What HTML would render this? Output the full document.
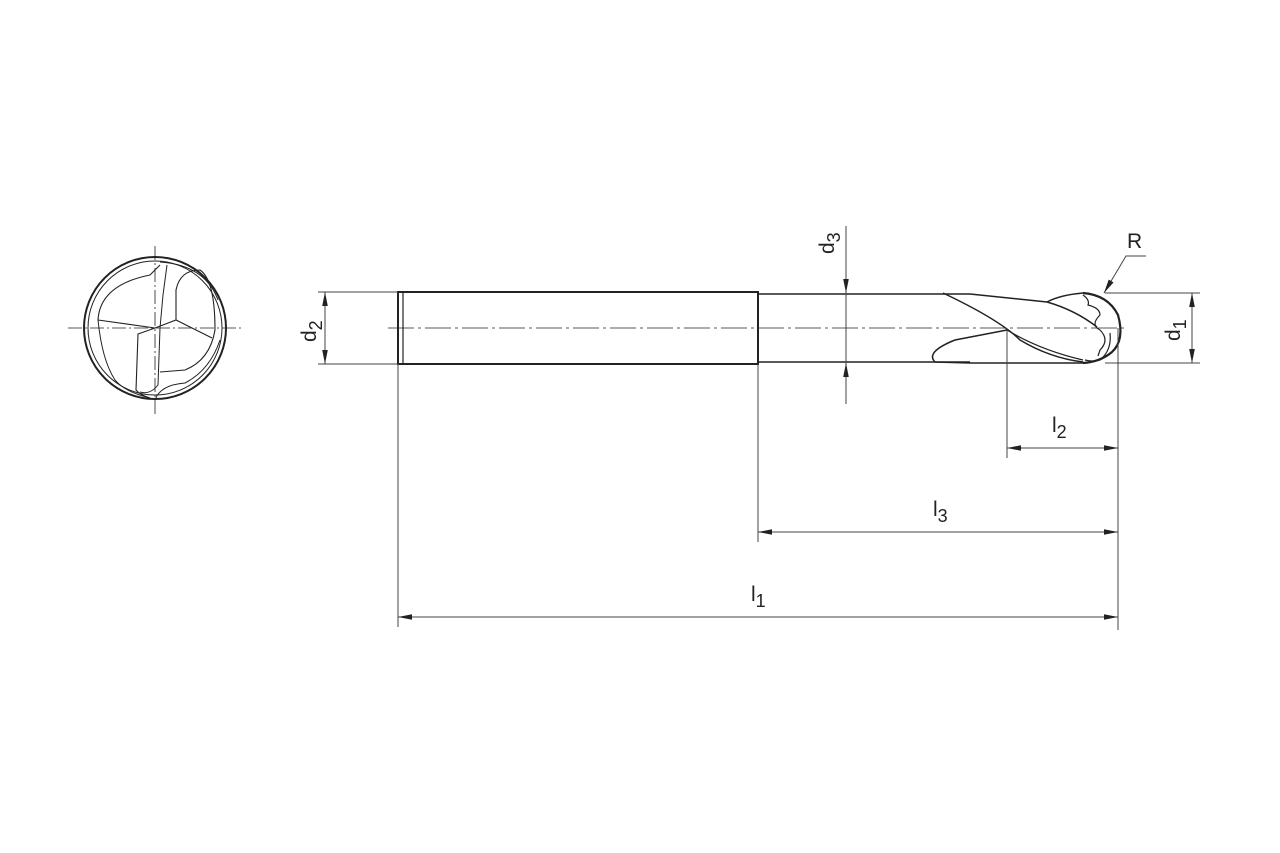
<!DOCTYPE html>
<html><head><meta charset="utf-8"><style>
html,body{margin:0;padding:0;background:#fff;}
svg{display:block;}
text{font-family:"Liberation Sans",sans-serif;fill:#222;}
</style></head><body>
<svg width="1280" height="853" viewBox="0 0 1280 853" xmlns="http://www.w3.org/2000/svg">
<defs>
<marker id="a" viewBox="0 0 10 5" refX="10" refY="2.5" markerWidth="14" markerHeight="7" markerUnits="userSpaceOnUse" orient="auto-start-reverse"><path d="M0,0.5 L10,2.5 L0,4.5 z" fill="#222"/></marker>
</defs>
<g fill="none" stroke="#222">
<!-- end view -->
<circle cx="155" cy="328" r="71" stroke-width="2"/>
<circle cx="155" cy="328" r="67" stroke-width="1"/>
<line x1="68" y1="328" x2="242" y2="328" stroke-width="0.8" stroke-dasharray="14,3,2,3"/>
<line x1="155" y1="246" x2="155" y2="414" stroke-width="0.8" stroke-dasharray="14,3,2,3"/>
<path d="M155,328 L98,320 M155,328 L138,334 L136,390 Q140,395 150,398 M155,328 L176,320 L212,338" stroke-width="1.1"/>
<path d="M98,320 Q100,285 150,275 L160,265 M176,320 L176,290 Q180,270 200,270 Q215,280 215,330 Q210,360 185,370 L160,372" stroke-width="1.1"/>
<path d="M150,398 Q125,392 115,380 Q102,360 98,320 M160,262 Q205,265 218,300 M155,400 Q160,385 185,383 Q210,370 220,340" stroke-width="1"/>
<path d="M167,265 Q165,280 163,295 L160,328 L158,385 Q150,395 140,392" stroke-width="1"/>
<!-- shank -->
<rect x="398" y="292" width="360" height="72" stroke-width="2"/>
<line x1="403" y1="292" x2="403" y2="364" stroke-width="1.2"/>
<path d="M758,294 L970,294 M758,362 L970,362" stroke-width="1.6"/>
<line x1="388" y1="328" x2="1128" y2="328" stroke-width="0.8" stroke-dasharray="26,4,3,4"/>
<!-- flutes -->
<path d="M943,293 Q1000,320 1020,340 Q1050,358 1083,362" stroke-width="1.5"/>
<path d="M970,294 L1047,302 Q1075,310 1097,327" stroke-width="1.5"/>
<path d="M1047,302 Q1060,295 1083,293" stroke-width="1.5"/>
<path d="M1083,293 Q1108,295 1118,315 Q1125,340 1112,352 Q1100,362 1083,363" stroke-width="2.2"/>
<path d="M1083,295 Q1090,300 1088,305 Q1100,308 1100,315 Q1090,325 1100,330 Q1110,340 1100,350 L1098,356 M1110,333 Q1112,350 1100,360 Q1092,362 1085,360" stroke-width="1.2"/>
<path d="M1007,330 L955,340 Q925,352 935,362 L970,363 L1083,363" stroke-width="1.5"/>
<path d="M1007,330 Q1040,350 1083,360" stroke-width="1.2"/>
</g>
<!-- dimension lines -->
<g fill="none" stroke="#444" stroke-width="1">
<line x1="318" y1="292" x2="398" y2="292"/><line x1="318" y1="364" x2="398" y2="364"/>
<line x1="325" y1="292" x2="325" y2="364" marker-start="url(#a)" marker-end="url(#a)"/>
<line x1="846" y1="226" x2="846" y2="293" marker-end="url(#a)"/>
<line x1="846" y1="404" x2="846" y2="363" marker-end="url(#a)"/>
<line x1="846" y1="293" x2="846" y2="363"/>
<line x1="1105" y1="293" x2="1200" y2="293"/><line x1="1105" y1="363" x2="1200" y2="363"/>
<line x1="1192" y1="293" x2="1192" y2="363" marker-start="url(#a)" marker-end="url(#a)"/>
<line x1="398" y1="364" x2="398" y2="627"/>
<line x1="758" y1="364" x2="758" y2="542"/>
<line x1="1007" y1="330" x2="1007" y2="458"/>
<line x1="1118" y1="328" x2="1118" y2="630"/>
<line x1="1007" y1="448" x2="1118" y2="448" marker-start="url(#a)" marker-end="url(#a)"/>
<line x1="758" y1="532" x2="1118" y2="532" marker-start="url(#a)" marker-end="url(#a)"/>
<line x1="398" y1="617" x2="1118" y2="617" marker-start="url(#a)" marker-end="url(#a)"/>
<path d="M1146,256 L1126,256 L1104,293" marker-end="url(#a)"/>
</g>
<g font-size="21">
<text x="1127" y="248">R</text>
<text x="1052" y="432">l<tspan font-size="18" dy="6">2</tspan></text>
<text x="933" y="516">l<tspan font-size="18" dy="6">3</tspan></text>
<text x="751" y="601">l<tspan font-size="18" dy="6">1</tspan></text>
<text transform="translate(316,342) rotate(-90)">d<tspan font-size="18" dy="6">2</tspan></text>
<text transform="translate(834,254) rotate(-90)">d<tspan font-size="18" dy="6">3</tspan></text>
<text transform="translate(1180,341) rotate(-90)">d<tspan font-size="18" dy="6">1</tspan></text>
</g>
</svg>
</body></html>
